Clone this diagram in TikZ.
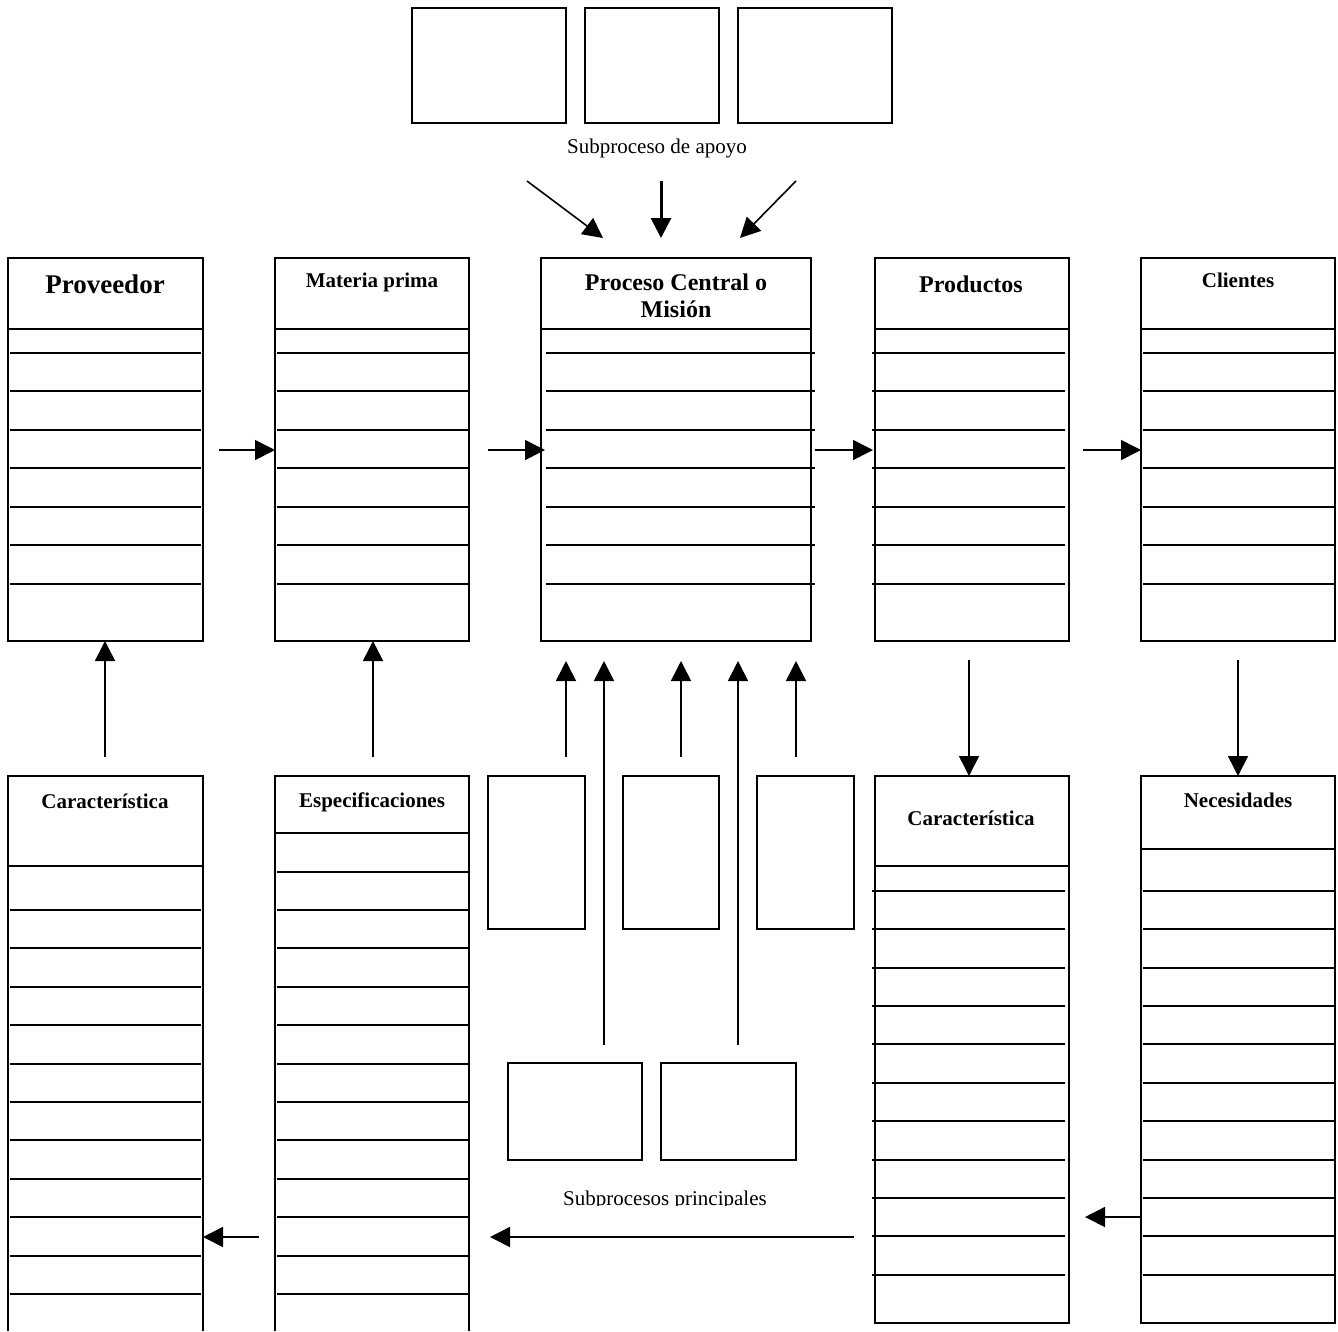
\documentclass[tikz,border=0pt]{standalone}
\usepackage{fontspec}
\setmainfont{Liberation Serif}
\usetikzlibrary{arrows.meta}

\tikzset{
  caja/.style={draw, line width=1.6pt, inner sep=0pt, outer sep=0pt, anchor=north west},
  hueco/.style={inner sep=0pt, outer sep=0pt, anchor=north west},
  linea/.style={line width=1.6pt},
  flecha/.style={line width=1.6pt, -{Triangle[length=20pt,width=20pt]}},
  titulo/.style={font=\bfseries\fontsize{21}{24}\selectfont, anchor=base, inner sep=0pt},
  texto/.style={font=\fontsize{21}{24}\selectfont, anchor=base, inner sep=0pt},
}

\begin{document}
\begin{tikzpicture}[x=1pt,y=-1pt]
\useasboundingbox[fill=white] (0,0) rectangle (1338,1331);

% subprocesos de apoyo
\node[caja, minimum width=154pt, minimum height=115pt] (apoyo1) at (412,8) {};
\node[caja, minimum width=134pt, minimum height=115pt] (apoyo2) at (585,8) {};
\node[caja, minimum width=154pt, minimum height=115pt] (apoyo3) at (738,8) {};
\node[texto] (tapoyo) at (657,153) {Subproceso de apoyo};

\coordinate (a1) at (527,181); \coordinate (b1) at (603,238);
\coordinate (a2) at (661,181); \coordinate (b2) at (661,238);
\coordinate (a3) at (796,181); \coordinate (b3) at (740,238);
\draw[flecha] (a1) -- (b1);
\draw[flecha, line width=3pt] (a2) -- (b2);
\draw[flecha] (a3) -- (b3);

% fila superior
\node[caja, minimum width=195pt, minimum height=383pt] (prov) at (8,258) {};
\node[caja, minimum width=194pt, minimum height=383pt] (mat) at (275,258) {};
\node[caja, minimum width=270pt, minimum height=383pt] (proc) at (541,258) {};
\node[caja, minimum width=194pt, minimum height=383pt] (prod) at (875,258) {};
\node[caja, minimum width=194pt, minimum height=383pt] (cli) at (1141,258) {};

\foreach \xa/\xb in {8/203,275/469,541/811,875/1069,1141/1335}
  \draw[linea] (\xa,329) -- (\xb,329);
\foreach \xa/\xb in {10/201,277/469,546/815,872/1065,1143/1335}
  \foreach \y in {353,391,430,468,507,545,584}
    \draw[linea] (\xa,\y) -- (\xb,\y);

\node[titulo, font=\bfseries\fontsize{27}{30}\selectfont] (tprov) at (105,293) {Proveedor};
\node[titulo] (tmat) at (372,287) {Materia prima};
\node[titulo, anchor=north, align=center, font=\bfseries\fontsize{24}{26.5}\selectfont] (tproc) at (676,274) {Proceso Central o\\Misión};
\node[titulo, font=\bfseries\fontsize{24}{27}\selectfont] (tprod) at (971,292) {Productos};
\node[titulo] (tcli) at (1238,287) {Clientes};

\coordinate (f1) at (219,450); \draw[flecha] (f1) -- (f1 -| mat.west);
\coordinate (f2) at (488,450); \draw[flecha] (f2) -- ([xshift=4pt]f2 -| proc.west);
\coordinate (f3) at (815,450); \draw[flecha] (f3) -- ([xshift=-2pt]f3 -| prod.west);
\coordinate (f4) at (1083,450); \draw[flecha] (f4) -- (f4 -| cli.west);

% subprocesos principales
\node[caja, minimum width=97pt, minimum height=153pt] (sub1) at (488,776) {};
\node[caja, minimum width=96pt, minimum height=153pt] (sub2) at (623,776) {};
\node[caja, minimum width=97pt, minimum height=153pt] (sub3) at (757,776) {};
\node[caja, minimum width=134pt, minimum height=97pt] (prin1) at (508,1063) {};
\node[caja, minimum width=135pt, minimum height=97pt] (prin2) at (661,1063) {};
\begin{scope}
  \clip (0,0) rectangle (1338,1205);
  \node[texto] (tprin) at (665,1205) {Subprocesos principales};
\end{scope}

\foreach \n/\x/\y in {m1/566/757,m2/604/1045,m3/681/757,m4/738/1045,m5/796/757}{
  \coordinate (\n a) at (\x,\y);
  \coordinate (\n b) at (\x,661);
  \draw[flecha] (\n a) -- (\n b);
}

% fila inferior
\node[hueco, minimum width=195pt, minimum height=555pt] (car1) at (8,776) {};
\node[hueco, minimum width=194pt, minimum height=555pt] (esp) at (275,776) {};
\node[caja, minimum width=194pt, minimum height=547pt] (car2) at (875,776) {};
\node[caja, minimum width=194pt, minimum height=547pt] (nec) at (1141,776) {};
\draw[linea] (car1.south west) -- (car1.north west) -- (car1.north east) -- (car1.south east);
\draw[linea] (esp.south west) -- (esp.north west) -- (esp.north east) -- (esp.south east);

\draw[linea] (8,866) -- (203,866);
\draw[linea] (275,833) -- (469,833);
\draw[linea] (875,866) -- (1069,866);
\draw[linea] (1141,849) -- (1335,849);
\foreach \y in {910,948,987,1025,1064,1102,1140,1179,1217,1256,1294}
  \draw[linea] (10,\y) -- (201,\y);
\foreach \y in {872,910,948,987,1025,1064,1102,1140,1179,1217,1256,1294}
  \draw[linea] (277,\y) -- (469,\y);
\foreach \y in {891,929,968,1006,1044,1083,1121,1160,1198,1236,1275}{
  \draw[linea] (872,\y) -- (1065,\y);
  \draw[linea] (1143,\y) -- (1335,\y);
}

\node[titulo] (tcar1) at (105,808) {Característica};
\node[titulo] (tesp) at (372,807) {Especificaciones};
\node[titulo] (tcar2) at (971,825) {Característica};
\node[titulo] (tnec) at (1238,807) {Necesidades};

\coordinate (u1) at (105,757); \draw[flecha] (u1) -- (u1 |- prov.south);
\coordinate (u2) at (373,757); \draw[flecha] (u2) -- (u2 |- mat.south);
\coordinate (d1) at (969,660); \draw[flecha] (d1) -- (d1 |- car2.north);
\coordinate (d2) at (1238,660); \draw[flecha] (d2) -- (d2 |- nec.north);

\coordinate (g1) at (259,1237); \draw[flecha] (g1) -- (g1 -| car1.east);
\coordinate (g2) at (854,1237); \coordinate (h2) at (490,1237);
\draw[flecha] (g2) -- (h2);
\coordinate (g3) at (1085,1217); \draw[flecha] (g3 -| nec.west) -- (g3);
\end{tikzpicture}
\end{document}
